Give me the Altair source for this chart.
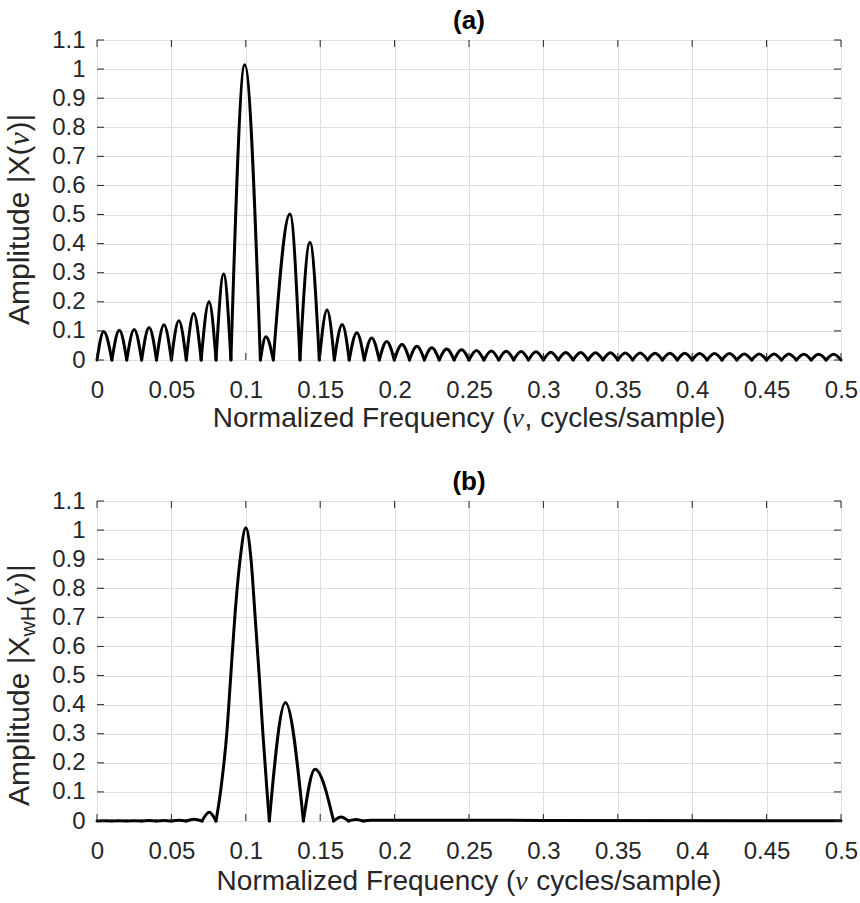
import altair as alt
import pandas as pd

# ---------------- data ----------------
# Panel (a): rectangular-window spectrum, described lobe by lobe
a_zeros = [0.0, 0.01, 0.02, 0.03, 0.04, 0.05, 0.06, 0.07, 0.08, 0.09,
           0.1098, 0.1185, 0.1364, 0.1494, 0.1595, 0.1695, 0.1796, 0.1897, 0.1998,
           0.21, 0.22, 0.23, 0.24, 0.25, 0.26, 0.27, 0.28, 0.29, 0.30,
           0.31, 0.32, 0.33, 0.34, 0.35, 0.36, 0.37, 0.38, 0.39, 0.40,
           0.41, 0.42, 0.43, 0.44, 0.45, 0.46, 0.47, 0.48, 0.49, 0.50]
a_peak_x = [0.0045, 0.015, 0.025, 0.035, 0.045, 0.055, 0.065, 0.0753, 0.0851, 0.0993,
            0.1135, 0.1297, 0.1431, 0.1546, 0.1648, 0.1746, 0.1846, 0.1947, 0.205,
            0.215, 0.225, 0.235, 0.245, 0.255, 0.265, 0.275, 0.285, 0.295, 0.305,
            0.315, 0.325, 0.335, 0.345, 0.355, 0.365, 0.375, 0.385, 0.395, 0.405,
            0.415, 0.425, 0.435, 0.445, 0.455, 0.465, 0.475, 0.485, 0.495]
a_peak_y = [0.098, 0.102, 0.105, 0.112, 0.121, 0.135, 0.160, 0.200, 0.296, 1.015,
            0.080, 0.502, 0.405, 0.172, 0.122, 0.094, 0.076, 0.064, 0.053,
            0.047, 0.042, 0.038, 0.035, 0.033, 0.031, 0.030, 0.029, 0.028, 0.027,
            0.026, 0.026, 0.025, 0.025, 0.024, 0.024, 0.023, 0.023, 0.023, 0.022,
            0.022, 0.022, 0.021, 0.021, 0.021, 0.021, 0.020, 0.020, 0.020]

# Panel (b): Hamming-window spectrum
b_zeros = [0.0, 0.01, 0.02, 0.03, 0.04, 0.05, 0.06, 0.0706, 0.080,
           0.1158, 0.1387, 0.159, 0.169, 0.179]
b_peak_x = [0.005, 0.015, 0.025, 0.035, 0.045, 0.055, 0.0653, 0.0754, 0.100,
            0.1266, 0.1465, 0.164, 0.174]
b_peak_y = [0.001, 0.001, 0.0012, 0.0015, 0.002, 0.003, 0.006, 0.030, 1.008,
            0.407, 0.178, 0.014, 0.005]
# extra points on the flanks of the main lobe of (b)
b_main_x = [0.0830, 0.0872, 0.0899, 0.0926, 0.0962, 0.1035, 0.1063, 0.1090, 0.1115, 0.1143]
b_main_y = [0.10, 0.30, 0.50, 0.70, 0.90, 0.90, 0.70, 0.50, 0.30, 0.10]
# nearly flat tail of (b)
b_tail_x = [0.179, 0.184, 0.30, 0.50]
b_tail_y = [0.0, 0.003, 0.002, 0.001]

x_ticks = [0, 0.05, 0.1, 0.15, 0.2, 0.25, 0.3, 0.35, 0.4, 0.45, 0.5]
y_ticks = [0, 0.1, 0.2, 0.3, 0.4, 0.5, 0.6, 0.7, 0.8, 0.9, 1.0, 1.1]

title_a = "(a)"
title_b = "(b)"
# labels as pieces: (text, kind) kind: n = normal, g = greek italic, s = subscript
xlab_a = [("Normalized Frequency (", "n"), ("ν", "g"), (", cycles/sample)", "n")]
xlab_b = [("Normalized Frequency (", "n"), ("ν", "g"), (" cycles/sample)", "n")]
ylab_a = [("Amplitude |X(", "n"), ("ν", "g"), (")|", "n")]
ylab_b = [("Amplitude |X", "n"), ("wH", "s"), ("(", "n"), ("ν", "g"), (")|", "n")]

# ---------------- style ----------------
W, H = 744, 320
FONT = "Liberation Sans"
SERIF = "Liberation Serif"
FRAME = "#262626"
GRID = "#dedede"
TICK_FS = 24
LAB_FS = 28
YLAB_FS = 30
SUB_FS = 21
TL = 7

# approximate advance widths (em) used to chain label pieces
EM = {"A": 0.667, "m": 0.833, "p": 0.556, "l": 0.222, "i": 0.222, "t": 0.278,
      "u": 0.556, "d": 0.556, "e": 0.556, " ": 0.278, "|": 0.26, "X": 0.667,
      "(": 0.333, ")": 0.333, "w": 0.722, "H": 0.722, "ν": 0.47, "N": 0.722,
      "o": 0.556, "r": 0.333, "a": 0.556, "z": 0.5, "F": 0.611, "q": 0.556,
      "n": 0.556, "c": 0.5, "y": 0.5, ",": 0.278, "s": 0.5, "/": 0.278}


def lobe_rows(zeros, px, py, prefix):
    rows = []
    for i in range(len(px)):
        seg = f"{prefix}{i}"
        rows.append((zeros[i], 0.0, seg))
        rows.append((px[i], py[i], seg))
        rows.append((zeros[i + 1], 0.0, seg))
    return rows


rows_a = lobe_rows(a_zeros, a_peak_x, a_peak_y, "a")
rows_b = lobe_rows(b_zeros, b_peak_x, b_peak_y, "b")
main_idx = b_peak_y.index(max(b_peak_y))
rows_b += [(x, y, f"b{main_idx}") for x, y in zip(b_main_x, b_main_y)]
rows_b += [(x, y, "btail") for x, y in zip(b_tail_x, b_tail_y)]

df_a = pd.DataFrame(rows_a, columns=["x", "y", "seg"])
df_b = pd.DataFrame(rows_b, columns=["x", "y", "seg"])

xscale = alt.Scale(domain=[0, 0.5], nice=False, zero=False)
yscale = alt.Scale(domain=[0, 1.1], nice=False)

x_axis = alt.Axis(values=x_ticks, format="~g", grid=True, gridColor=GRID, gridWidth=1,
                  domain=False, ticks=False, tickSize=0, labelFontSize=TICK_FS,
                  labelFont=FONT, labelColor=FRAME, labelPadding=18, title=None,
                  labelFlush=False, labelOverlap=False)

y_axis = alt.Axis(values=y_ticks, format="~g", grid=True, gridColor=GRID, gridWidth=1,
                  domain=False, ticks=False, tickSize=0, labelFontSize=TICK_FS,
                  labelFont=FONT, labelColor=FRAME, labelPadding=12, title=None,
                  labelOverlap=False, labelFlush=False)

one = pd.DataFrame({"t": [0]})


def piece_style(kind, base):
    if kind == "s":
        return SUB_FS, FONT, "normal", 9
    if kind == "g":
        return base, SERIF, "italic", 0
    return base, FONT, "normal", 0


def width(text, size):
    return sum(EM.get(c, 0.55) for c in text) * size


def ylabel_layers(pieces, y_bottom, x_center=-77):
    layers = []
    y = y_bottom
    for text, kind in pieces:
        size, font, style, off = piece_style(kind, YLAB_FS)
        lead = len(text) - len(text.lstrip(" "))
        y -= width(" " * lead, size)
        text = text.lstrip(" ")
        layers.append(
            alt.Chart(one).mark_text(text=text, angle=270, font=font, fontSize=size,
                                     fontStyle=style, color=FRAME, align="left",
                                     baseline="middle").encode(
                x=alt.value(x_center + off), y=alt.value(y))
        )
        y -= width(text, size)
    return layers


def xlabel_layers(pieces, y_center):
    total = sum(width(t, piece_style(k, LAB_FS)[0]) for t, k in pieces)
    x = W / 2 - total / 2
    layers = []
    for text, kind in pieces:
        size, font, style, off = piece_style(kind, LAB_FS)
        lead = len(text) - len(text.lstrip(" "))
        x += width(" " * lead, size)
        text = text.lstrip(" ")
        layers.append(
            alt.Chart(one).mark_text(text=text, font=font, fontSize=size,
                                     fontStyle=style, color=FRAME, align="left",
                                     baseline="middle").encode(
                x=alt.value(x), y=alt.value(y_center + off))
        )
        x += width(text, size)
    return layers


def panel(df, title, labels):
    line = alt.Chart(df).mark_line(color="black", strokeWidth=3, interpolate="monotone",
                                   strokeCap="round", strokeJoin="round").encode(
        x=alt.X("x:Q", scale=xscale, axis=x_axis),
        y=alt.Y("y:Q", scale=yscale, axis=y_axis),
        detail="seg:N",
        order="x:Q",
    )
    xt = pd.DataFrame({"x": x_ticks})
    yt = pd.DataFrame({"y": y_ticks})
    bt = alt.Chart(xt).mark_rule(color=FRAME, strokeWidth=1).encode(
        x=alt.X("x:Q", scale=xscale, axis=x_axis), y=alt.value(H), y2=alt.value(H - TL))
    tt = alt.Chart(xt).mark_rule(color=FRAME, strokeWidth=1).encode(
        x=alt.X("x:Q", scale=xscale, axis=x_axis), y=alt.value(0), y2=alt.value(TL))
    lt = alt.Chart(yt).mark_rule(color=FRAME, strokeWidth=1).encode(
        y=alt.Y("y:Q", scale=yscale, axis=y_axis), x=alt.value(0), x2=alt.value(TL))
    rt = alt.Chart(yt).mark_rule(color=FRAME, strokeWidth=1).encode(
        y=alt.Y("y:Q", scale=yscale, axis=y_axis), x=alt.value(W), x2=alt.value(W - TL))
    return alt.layer(line, bt, tt, lt, rt, *labels).properties(
        width=W, height=H,
        title=alt.TitleParams(title, font=FONT, fontSize=26, fontWeight="bold",
                              color="black", offset=-6, anchor="middle"),
    )


pa = panel(df_a, title_a, ylabel_layers(ylab_a, 285) + xlabel_layers(xlab_a, H + 59))
pb = panel(df_b, title_b, ylabel_layers(ylab_b, 305) + xlabel_layers(xlab_b, H + 61))

chart = alt.vconcat(pa, pb, spacing=34).properties(
    padding={"left": 4, "top": 7, "right": 0, "bottom": 0}
).configure_view(stroke=FRAME, strokeWidth=1).configure(background="white")

chart.save("out.html", embed_options={"renderer": "svg", "actions": False})
